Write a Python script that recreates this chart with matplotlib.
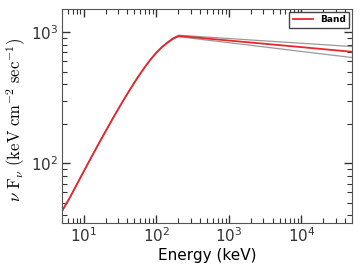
import numpy as np
import matplotlib
matplotlib.use('Agg')
import matplotlib.pyplot as plt

# 讀取自圖上的能量 (keV) 與 nuFnu 數值
energy = [5, 6.5, 8, 10, 13, 16, 20, 26, 34, 42, 50, 60, 70, 84, 100,
          120, 143, 170, 190, 206, 300, 500, 1000, 3000, 10000, 30000, 50000]
band = [43, 55.3, 68.7, 86.6, 113.5, 140.2, 175.2, 226.5, 292.1, 354, 412.6,
        480.4, 542.8, 620.9, 694.8, 768.7, 831, 889.5, 917.6, 933,
        915.5, 892, 861, 815, 767, 725, 707]
band_hi = [43, 55.3, 68.7, 86.6, 113.5, 140.2, 175.2, 226.5, 292.1, 354, 412.6,
           480.4, 542.8, 623, 698, 773, 838, 899, 929, 945,
           932, 915, 892, 857, 821, 789, 774]
band_lo = [43, 55.3, 68.7, 86.6, 113.5, 140.2, 175.2, 226.5, 292.1, 354, 412.6,
           480.4, 542.8, 619, 692, 765, 824, 880, 907, 921,
           898, 868, 829, 771, 711, 661, 639]

plt.rcParams['mathtext.fontset'] = 'cm'

fig = plt.figure(figsize=(3.6, 2.7), dpi=100)
ax = fig.add_axes([0.172, 0.174, 0.806, 0.793])

ax.plot(energy, band_hi, color='#9a9a9a', lw=0.9)
ax.plot(energy, band_lo, color='#9a9a9a', lw=0.9)
ax.plot(energy, band, color='#e8262b', lw=1.3, label='Band')

ax.set_xscale('log')
ax.set_yscale('log')
ax.set_xlim(5, 5e4)
ax.set_ylim(35, 1500)

ax.set_xlabel('Energy (keV)', fontsize=11, labelpad=2)
ax.set_ylabel(r'$\nu\ \mathrm{F}_\nu\ (\mathrm{keV\ cm^{-2}\ sec^{-1}})$', fontsize=12)
ax.yaxis.set_label_coords(-0.117, 0.48)

for s in ax.spines.values():
    s.set_color('#555555')
ax.tick_params(which='both', direction='in', top=True, right=True, colors='#333333',
               labelsize=11)
ax.tick_params(which='major', length=6, width=1, pad=2.5)
ax.tick_params(which='minor', length=3.5, width=0.8)

leg = ax.legend(loc='upper right', fancybox=False, framealpha=1, edgecolor='#444444',
                prop={'weight': 'bold', 'size': 6.5}, handlelength=2.2,
                borderaxespad=0.3)
leg.get_frame().set_linewidth(1)

fig.savefig('out.png', dpi=100)
